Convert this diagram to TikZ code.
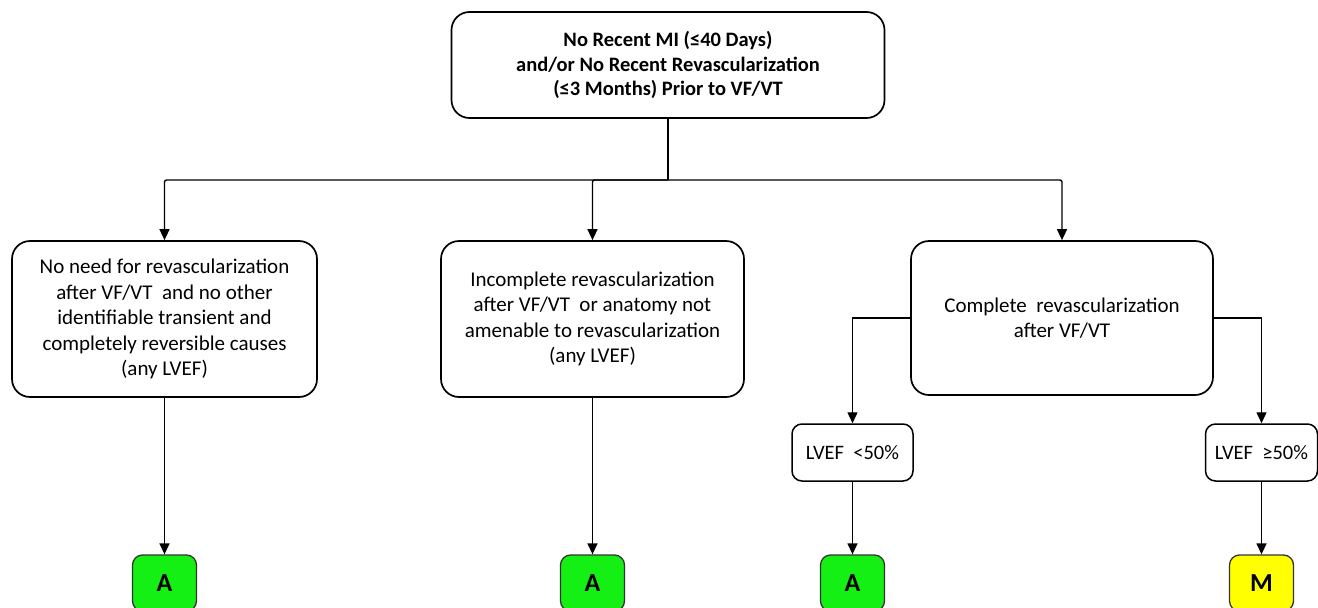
\documentclass[tikz,border=0pt]{standalone}
\usepackage{fontspec}
\setmainfont{Carlito}
\usetikzlibrary{arrows.meta}
\definecolor{boxgreen}{RGB}{20,240,20}
\definecolor{boxyellow}{RGB}{255,255,0}
\tikzset{
  flowbox/.style={draw=black, line width=1.7pt, rounded corners=18pt, fill=white, align=center,
    inner sep=0pt, font=\fontsize{21}{25.5}\selectfont},
  smallbox/.style={draw=black, line width=1.5pt, rounded corners=10pt, fill=white, align=center,
    inner sep=0pt, font=\fontsize{20.5}{24}\selectfont},
  resbox/.style={draw=black!80, line width=1.3pt, rounded corners=10pt, align=center,
    inner sep=0pt, minimum width=64pt, minimum height=56pt, font=\bfseries\fontsize{26}{26}\selectfont},
  conn/.style={draw=black, line width=1.4pt},
  arr/.style={conn, -{Triangle[length=11pt,width=10pt]}},
}
\begin{document}
\begin{tikzpicture}[x=1pt,y=-1pt]
\useasboundingbox (0,0) rectangle (1318,608);
\node[flowbox, font=\bfseries\fontsize{20.5}{24.5}\selectfont, minimum width=433pt, minimum height=106pt] (top) at (668,65)
  {No Recent MI (≤40 Days)\\and/or No Recent Revascularization\\(≤3 Months) Prior to VF/VT};
\node[flowbox, minimum width=305pt, minimum height=156pt] (left) at (164.5,319)
  {No need for revascularization\\after VF/VT\ \ and no other\\identifiable transient and\\completely reversible causes\\(any LVEF)};
\node[flowbox, minimum width=303pt, minimum height=156pt] (mid) at (592.5,319)
  {Incomplete revascularization\\after VF/VT\ \ or anatomy not\\amenable to revascularization\\(any LVEF)};
\node[flowbox, minimum width=302pt, minimum height=154pt] (right) at (1062,318)
  {Complete\ \ revascularization\\after VF/VT};
\node[smallbox, minimum width=121pt, minimum height=57pt] (lo) at (852.5,452.5) {LVEF\ \ <50\%};
\node[smallbox, minimum width=112pt, minimum height=57pt] (hi) at (1261.5,452.5) {LVEF\ \ ≥50\%};
\node[resbox, fill=boxgreen] (a1) at (164.5,583) {A};
\node[resbox, fill=boxgreen] (a2) at (592.5,583) {A};
\node[resbox, fill=boxgreen] (a3) at (852.5,583) {A};
\node[resbox, fill=boxyellow] (m) at (1261.5,583) {M};
\coordinate (split) at (668,180);
\draw[conn, line width=2pt] (top.south) -- (split);
\draw[arr, rounded corners=2pt] (split) -| (left.north);
\draw[arr, rounded corners=2pt] (split) -| (mid.north);
\draw[arr, rounded corners=2pt] (split) -| (right.north);
\draw[arr] (right.west) -| (lo.north);
\draw[arr] (right.east) -| (hi.north);
\draw[arr] (left.south) -- (a1.north);
\draw[arr] (mid.south) -- (a2.north);
\draw[arr] (lo.south) -- (a3.north);
\draw[arr] (hi.south) -- (m.north);
\end{tikzpicture}
\end{document}
